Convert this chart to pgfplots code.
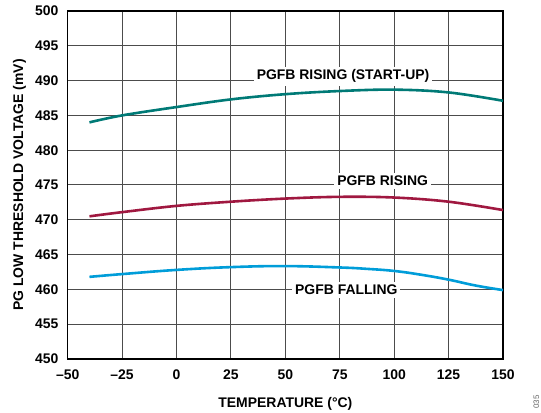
\documentclass[border=0pt]{standalone}
\usepackage{pgfplots}
\pgfplotsset{compat=1.18}
\usepackage{fontspec}
\setmainfont{Liberation Sans}
\definecolor{cteal}{RGB}{0,122,118}
\definecolor{ccrim}{RGB}{160,24,64}
\definecolor{cblue}{RGB}{0,157,217}
\newcommand{\lblfont}{\fontsize{14}{16}\selectfont\bfseries}
\begin{document}
\begin{tikzpicture}
\begin{axis}[
  scale only axis, width=435.3bp, height=348bp,
  xmin=-50, xmax=150, ymin=450, ymax=500,
  xtick={-50,-25,0,25,50,75,100,125,150},
  xticklabels={\textendash50,\textendash25,0,25,50,75,100,125,150},
  ytick={450,455,460,465,470,475,480,485,490,495,500},
  yticklabels={450,455,460,465,470,475,480,485,490,495,500},
  tick label style={font=\lblfont},
  xticklabel style={yshift=-7bp},
  yticklabel style={xshift=-5.7bp},
  major tick length=0pt,
  grid=major,
  major grid style={draw=black!70, line width=1bp},
  axis line style={line width=1.6bp},
  xlabel={TEMPERATURE (°C)},
  ylabel={PG LOW THRESHOLD VOLTAGE (mV)},
  label style={font=\lblfont},
  xlabel style={at={(axis description cs:0.5,-0.1293)}, anchor=center},
  ylabel style={at={(axis description cs:-0.1107,0.5)}, anchor=center},
  clip=false,
]
\addplot[cteal, line width=2.6bp, smooth, tension=0.6] coordinates {
 (-40,484.0) (-25,485.0) (0,486.2) (25,487.3) (50,488.05) (75,488.5) (100,488.7) (125,488.3) (150,487.1)};
\addplot[ccrim, line width=2.6bp, smooth, tension=0.6] coordinates {
 (-40,470.5) (-25,471.1) (0,472.0) (25,472.6) (50,473.05) (75,473.3) (100,473.2) (125,472.6) (150,471.4)};
\addplot[cblue, line width=2.6bp, smooth, tension=0.7] coordinates {
 (-40,461.8) (-25,462.2) (0,462.8) (25,463.2) (50,463.35) (75,463.15) (87.5,462.95) (100,462.65) (112.5,462.1) (125,461.4) (137.5,460.55) (150,459.9)};
\node[fill=white, inner sep=3bp, font=\lblfont] at (axis cs:76.5,490.66) {PGFB RISING (START-UP)};
\node[fill=white, inner sep=3bp, font=\lblfont] at (axis cs:94.7,475.6) {PGFB RISING};
\node[fill=white, inner sep=3bp, font=\lblfont] at (axis cs:78,459.9) {PGFB FALLING};
\end{axis}
\node[rotate=90, font=\fontsize{8}{9}\selectfont, text=black!60] at ([shift={(33.5bp,-43bp)}]current axis.south east) {035};
\pgfresetboundingbox
\path[use as bounding box] ([shift={(-67.7bp,-54bp)}]current axis.south west) rectangle ([shift={(38bp,11bp)}]current axis.north east);
\end{tikzpicture}
\end{document}
